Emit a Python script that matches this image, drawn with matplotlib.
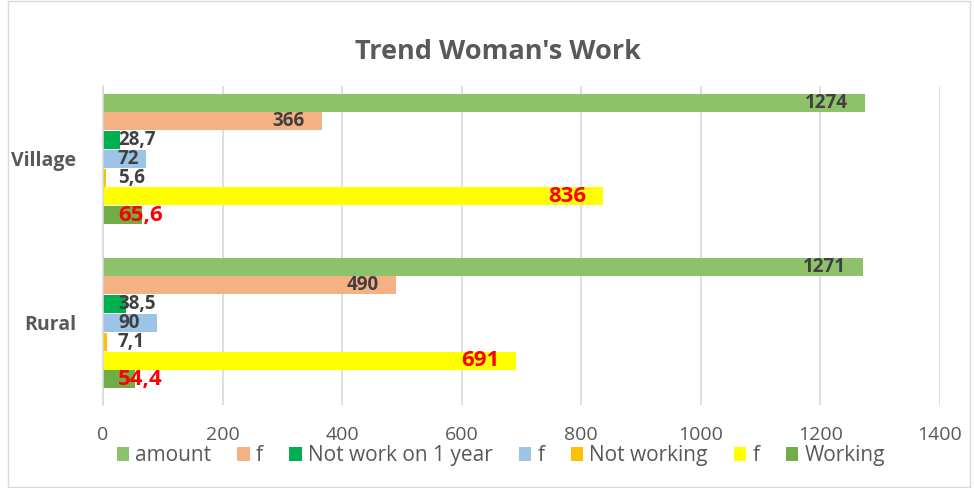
import matplotlib

matplotlib.use("Agg")
import matplotlib.pyplot as plt
import numpy as np
from matplotlib.patches import Patch, Rectangle

# Data (top-to-bottom order inside each group)
categories = ["Rural", "Village"]
series_names = ["amount", "f", "Not work on 1 year", "f", "Not working", "f", "Working"]
rural = [1271, 490, 38.5, 90, 7.1, 691, 54.4]
village = [1274, 366, 28.7, 72, 5.6, 836, 65.6]

COLORS = ["#8DC26B", "#F4B183", "#00B050", "#9DC3E6", "#FFC000", "#FFFF00", "#70AD47"]
LABEL_COLORS = ["#404040", "#404040", "#404040", "#404040", "#404040", "#FF0000", "#FF0000"]
LABEL_SIZES = [13.5, 13.5, 13.5, 13.5, 13.5, 16, 16]
INK = "#595959"
GRID = "#D9D9D9"

plt.rcParams["font.family"] = ["Open Sans", "DejaVu Sans"]

fig = plt.figure(figsize=(9.74, 4.88), dpi=100)
ax = fig.add_axes([0.1057, 0.170, 0.8593, 0.654])

values = np.array([rural, village])  # shape (2, 7)
n = len(series_names)
group_w = 0.80
bar_h = group_w / n
ypos = np.arange(len(categories))

for i in range(n):
    off = group_w / 2 - bar_h * (i + 0.5)  # first series at the top
    y = ypos + off
    ax.barh(y, values[:, i], height=bar_h * 0.96, color=COLORS[i], zorder=2)
    for yy, v in zip(y, values[:, i]):
        txt = f"{v:g}".replace(".", ",")
        if v > 150:
            ax.text(v - 28, yy, txt, ha="right", va="center", fontsize=LABEL_SIZES[i],
                    fontweight="bold", color=LABEL_COLORS[i], zorder=3)
        else:
            ax.text(25, yy, txt, ha="left", va="center", fontsize=LABEL_SIZES[i],
                    fontweight="bold", color=LABEL_COLORS[i], zorder=3)

ax.set_xlim(0, 1400)
ax.set_ylim(-0.50, 1.445)
ax.set_xticks(np.arange(0, 1401, 200))
ax.set_yticks(ypos)
ax.set_yticklabels(categories, fontsize=14, fontweight="bold", color=INK)
ax.tick_params(axis="x", labelsize=14, colors=INK, length=0, pad=15)
ax.tick_params(axis="y", length=0, pad=19)
ax.grid(axis="x", color=GRID, lw=1.2, zorder=0)
for s in ["top", "right", "bottom"]:
    ax.spines[s].set_visible(False)
ax.spines["left"].set_color(GRID)
ax.spines["left"].set_linewidth(1.2)

fig.text(0.511, 0.893, "Trend Woman's Work", ha="center", va="center",
         fontsize=19.5, fontweight="bold", color=INK)

handles = [Patch(facecolor=c, edgecolor="none", label=l) for c, l in zip(COLORS, series_names)]
fig.legend(handles=handles, loc="center", bbox_to_anchor=(0.514, 0.066), ncol=7,
           frameon=False, fontsize=15, labelcolor=INK, handlelength=0.6, handleheight=0.6,
           handletextpad=0.3, columnspacing=1.25, borderpad=0)

# chart border
fig.patches.append(Rectangle((0.008, 0.002), 0.988, 0.996, transform=fig.transFigure,
                             fill=False, edgecolor=GRID, lw=1))

fig.savefig("out.png", dpi=100, facecolor="white")
